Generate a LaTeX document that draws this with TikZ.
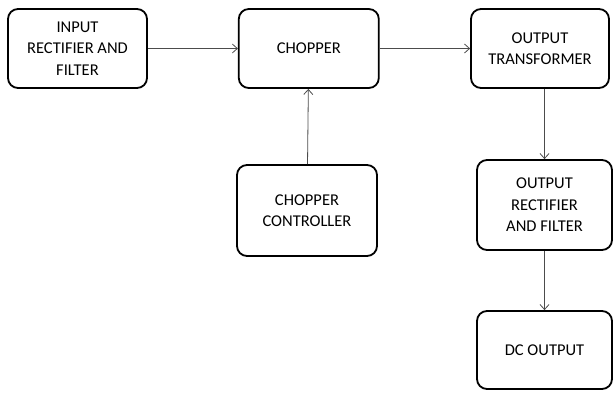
\documentclass[tikz,border=0pt]{standalone}
\usepackage{fontspec}
\setmainfont{Carlito}
\usetikzlibrary{positioning,arrows.meta}

\begin{document}
\begin{tikzpicture}[x=1pt, y=-1pt, node distance={90pt},
  main/.style = {draw, rounded corners=10pt, line width=1.8pt, align=center,
    font=\fontsize{16.5}{21.5}\selectfont, inner sep=0pt},
  link/.style = {draw=black!70, line width=0.8pt, -{Straight Barb[length=5pt,width=9pt]}}]
\useasboundingbox (0,0) rectangle (613,392);
\node[main, minimum width=139pt, minimum height=79pt] (inrect) at (77.5,48.5) {INPUT\\RECTIFIER AND\\FILTER};
\node[main, minimum width=140pt, minimum height=79pt] (chopper) [right=90pt of inrect] {CHOPPER};
\node[main, minimum width=138pt, minimum height=79pt] (outtrans) at (540,48.5) {OUTPUT\\TRANSFORMER};
\node[main, minimum width=140pt, minimum height=91pt] (ctrl) at (307,210.5) {CHOPPER\\CONTROLLER};
\node[main, minimum width=135pt, minimum height=90pt] (outrect) at (544.5,205) {OUTPUT\\RECTIFIER\\AND FILTER};
\node[main, minimum width=135pt, minimum height=78pt] (dcout) at (544.5,350) {DC OUTPUT};
\draw[link] (inrect) -- (chopper);
\draw[link] (chopper) -- (outtrans);
\draw[link] (ctrl) -- (chopper);
\draw[link] (outtrans.south -| outrect.north) -- (outrect.north);
\draw[link] (outrect) -- (dcout);
\end{tikzpicture}
\end{document}
